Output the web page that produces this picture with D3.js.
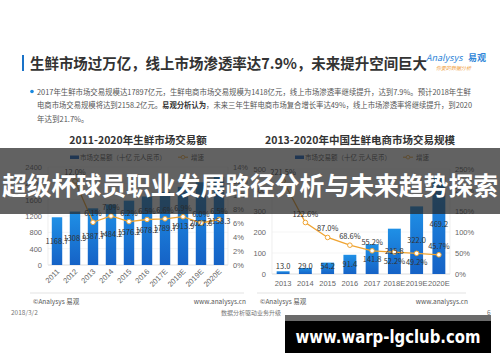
<!DOCTYPE html>
<html>
<head>
<meta charset="utf-8">
<script src="https://cdn.jsdelivr.net/npm/d3@7"></script>
<style>
  html, body { margin: 0; padding: 0; background: #fff; }
  svg { display: block; font-family: "Noto Sans CJK SC", "Noto Sans", sans-serif; }
</style>
</head>
<body>
<div id="chart"></div>
<script>
// left chart: fresh market size 2011-2020
const years1 = ["2011","2012","2013","2014","2015","2016","2017E","2018E","2019E","2020E"];
const market1 = [1168.7,1308.9,1387.7,1484.2,1576.2,1678.2,1789.7,1913.9,2027.8,2158.3];
const growth1 = [null,12.0,6.1,7.0,6.2,6.5,6.6,6.9,6.0,6.5];
const ticksL1 = [0,400,800,1200,1600,2000,2400];
const ticksR1 = [0,2,4,6,8,10,12,14];

// right chart: fresh e-commerce 2013-2020
const years2 = ["2013","2014","2015","2016","2017","2018E","2019E","2020E"];
const market2 = [13.0,29.0,54.2,91.4,141.8,215.8,322.0,469.2];
const growth2 = [221.5,122.6,87.0,68.6,55.2,52.2,49.2,45.7];
const labelSide2 = ["top","top","top","top","top","bottom","bottom","top"];
const ticksL2 = [0,100,200,300,400,500];
const ticksR2 = [0,50,100,150,200,250];

const W = 500, H = 362;
const svg = d3.select("#chart").append("svg").attr("width", W).attr("height", H);

const defs = svg.append("defs");
const grad = defs.append("linearGradient").attr("id", "barGrad")
  .attr("x1", 0).attr("y1", 0).attr("x2", 0).attr("y2", 1);
grad.append("stop").attr("offset", "0%").attr("stop-color", "#1f90e6");
grad.append("stop").attr("offset", "100%").attr("stop-color", "#1562c6");

const ORANGE = "#f0a431";
const TXT = "#555";

// ---- header ----
svg.append("rect").attr("x", 22).attr("y", 55).attr("width", 2).attr("height", 16).attr("fill", "#1a73c8");
svg.append("text").attr("x", 30).attr("y", 69)
  .attr("font-size", 15).attr("font-weight", "bold").attr("fill", "#333")
  .attr("textLength", 397).attr("lengthAdjust", "spacingAndGlyphs")
  .text("生鲜市场过万亿，线上市场渗透率达7.9%，未来提升空间巨大");

// logo
svg.append("text").attr("x", 426).attr("y", 61).attr("font-size", 9).attr("font-style", "italic")
  .attr("fill", "#2f86d8").text("Analysys");
svg.append("text").attr("x", 468).attr("y", 61).attr("font-size", 9).attr("font-weight", "bold")
  .attr("fill", "#2f86d8").text("易观");
svg.append("text").attr("x", 436).attr("y", 70).attr("font-size", 5).attr("font-style", "italic")
  .attr("fill", "#f0a040").text("你要的数据分析");

// bullet text
svg.append("circle").attr("cx", 32).attr("cy", 91.5).attr("r", 1.8).attr("fill", "#1a8ae0");
const bl = [
  [{t:"2017年生鲜市场交易规模达17897亿元，生鲜电商市场交易规模为1418亿元，线上市场渗透率继续提升，达到7.9%。预计2018年生鲜"}],
  [{t:"电商市场交易规模将达到2158.2亿元。"},{t:"易观分析认为",b:true},{t:"，未来三年生鲜电商市场复合增长率达49%，线上市场渗透率将继续提升，到2020"}],
  [{t:"年达到21.7%。"}]
];
const blY = [94.5, 108, 121.5];
const blLen = [434, 435, null];
bl.forEach((parts, i) => {
  const t = svg.append("text").attr("x", 37).attr("y", blY[i]).attr("font-size", 7.5).attr("fill", TXT);
  if (blLen[i]) t.attr("textLength", blLen[i]).attr("lengthAdjust", "spacingAndGlyphs");
  parts.forEach(p => t.append("tspan").attr("font-weight", p.b ? "bold" : null)
    .attr("fill", p.b ? "#333" : null).text(p.t));
});

// ---- generic chart drawer ----
function drawChart(o) {
  const g = svg.append("g");
  const x = d3.scaleBand().domain(o.cats).range(o.xr).paddingInner(0.42).paddingOuter(0.21);
  const yL = d3.scaleLinear().domain(o.yLd).range(o.yr);
  const yR = d3.scaleLinear().domain(o.yRd).range(o.yr);

  // title
  g.append("text").attr("x", o.titleX).attr("y", 144).attr("text-anchor", "middle")
    .attr("font-size", 10.5).attr("font-weight", "bold").attr("fill", "#333").text(o.title);

  // legend
  g.append("rect").attr("x", o.legX).attr("y", 155.5).attr("width", 9).attr("height", 3.5).attr("fill", "#1562c6");
  g.append("text").attr("x", o.legX + 10).attr("y", 159.5).attr("font-size", 6.5).attr("fill", TXT)
    .text("市场交易额（十亿 元人民币）");
  g.append("line").attr("x1", o.legX + 108).attr("x2", o.legX + 118).attr("y1", 157.2).attr("y2", 157.2)
    .attr("stroke", ORANGE).attr("stroke-width", 1);
  g.append("circle").attr("cx", o.legX + 113).attr("cy", 157.2).attr("r", 1.8)
    .attr("fill", "#fff").attr("stroke", ORANGE).attr("stroke-width", 0.8);
  g.append("text").attr("x", o.legX + 121).attr("y", 159.5).attr("font-size", 6.5).attr("fill", TXT).text("增速");

  // grid
  g.selectAll(".grid").data(o.ticksL).join("line")
    .attr("x1", o.xr[0]).attr("x2", o.xr[1])
    .attr("y1", d => yL(d)).attr("y2", d => yL(d))
    .attr("stroke", d => d === 0 ? "#cfcfcf" : "#f0f0f0").attr("stroke-width", 0.7);
  g.append("line").attr("x1", o.xr[0]).attr("x2", o.xr[0]).attr("y1", o.yr[0]).attr("y2", o.yr[1])
    .attr("stroke", "#e6e6e6").attr("stroke-width", 0.7);
  g.append("line").attr("x1", o.xr[1]).attr("x2", o.xr[1]).attr("y1", o.yr[0]).attr("y2", o.yr[1])
    .attr("stroke", "#e6e6e6").attr("stroke-width", 0.7);

  // axes
  const axL = g.append("g").attr("transform", `translate(${o.xr[0] - 6},0)`)
    .call(d3.axisLeft(yL).tickValues(o.ticksL).tickSize(0).tickPadding(0).tickFormat(d => String(d)));
  const axR = g.append("g").attr("transform", `translate(${o.xr[1] + 5},0)`)
    .call(d3.axisRight(yR).tickValues(o.ticksR).tickSize(0).tickPadding(0).tickFormat(d => d + "%"));
  [axL, axR].forEach(a => {
    a.select(".domain").remove();
    a.selectAll("text").attr("font-size", 7.5).attr("fill", "#666").attr("font-family", null);
  });

  const axB = g.append("g").attr("transform", `translate(0,${o.yr[0]})`)
    .call(d3.axisBottom(x).tickSize(0).tickPadding(0));
  axB.select(".domain").remove();
  axB.selectAll("text").attr("font-size", 7.5).attr("fill", "#666").attr("font-family", null);
  if (o.rotate) {
    axB.selectAll("text").attr("text-anchor", "end").attr("dy", null)
      .attr("transform", "translate(3,7) rotate(-45)");
  } else {
    axB.selectAll("text").attr("dy", null).attr("y", 11.5);
  }

  // bars
  g.selectAll(".bar").data(o.cats).join("rect")
    .attr("x", d => x(d)).attr("width", x.bandwidth())
    .attr("y", (d, i) => yL(o.vals[i])).attr("height", (d, i) => yL(0) - yL(o.vals[i]))
    .attr("fill", "url(#barGrad)");

  // growth line
  const pts = o.cats.map((c, i) => ({c, v: o.rates[i], i})).filter(p => p.v != null);
  const line = d3.line().x(p => x(p.c) + x.bandwidth() / 2).y(p => yR(p.v));
  g.append("path").datum(pts).attr("d", line).attr("fill", "none")
    .attr("stroke", ORANGE).attr("stroke-width", 1.3);
  g.selectAll(".pt").data(pts).join("circle")
    .attr("cx", p => x(p.c) + x.bandwidth() / 2).attr("cy", p => yR(p.v)).attr("r", 2.3)
    .attr("fill", "#fff").attr("stroke", ORANGE).attr("stroke-width", 1);

  // value labels
  g.selectAll(".vl").data(o.cats).join("text")
    .attr("x", d => x(d) + x.bandwidth() / 2)
    .attr("y", (d, i) => Math.min((yL(o.vals[i]) + yL(0)) / 2, yL(0) - 8) + 2.6)
    .attr("text-anchor", "middle").attr("font-size", 7.5).attr("fill", "#333")
    .text((d, i) => o.vals[i].toFixed(1));

  // rate labels
  g.selectAll(".rl").data(pts).join("text")
    .attr("x", p => x(p.c) + x.bandwidth() / 2)
    .attr("y", p => yR(p.v) + ((o.sides && o.sides[p.i] === "bottom") ? 12 : -6))
    .attr("text-anchor", "middle").attr("font-size", 7.5).attr("fill", "#333")
    .text(p => p.v.toFixed(1) + "%");

  // footer of chart
  g.append("line").attr("x1", o.footX[0]).attr("x2", o.footX[1]).attr("y1", 293).attr("y2", 293)
    .attr("stroke", "#e3e3e3").attr("stroke-width", 1);
  g.append("text").attr("x", o.footX[0] + 3).attr("y", 303.5).attr("font-size", 6.5).attr("fill", TXT)
    .text("©Analysys 易观");
  g.append("text").attr("x", o.footX[1] + 2).attr("y", 303.5).attr("text-anchor", "end")
    .attr("font-size", 6.5).attr("fill", TXT).text("www.analysys.cn");
}

drawChart({
  cats: years1, vals: market1, rates: growth1,
  xr: [48, 228], yr: [265, 167], yLd: [0, 2400], yRd: [0, 14],
  ticksL: ticksL1, ticksR: ticksR1,
  title: "2011-2020年生鲜市场交易额", titleX: 138, legX: 70, rotate: true,
  footX: [30, 244]
});

drawChart({
  cats: years2, vals: market2, rates: growth2, sides: labelSide2,
  xr: [272, 450], yr: [274, 169], yLd: [0, 500], yRd: [0, 250],
  ticksL: ticksL2, ticksR: ticksR2,
  title: "2013-2020年中国生鲜电商市场交易规模", titleX: 360, legX: 295, rotate: false,
  footX: [257, 466]
});

// page footer
svg.append("text").attr("x", 11).attr("y", 314.5).attr("font-size", 6.5).attr("fill", "#777").text("2018/3/2");
svg.append("text").attr("x", 251).attr("y", 315).attr("text-anchor", "middle").attr("font-size", 6)
  .attr("fill", "#777").text("数据分析驱动业务升级");
svg.append("text").attr("x", 487).attr("y", 314.5).attr("font-size", 6.5).attr("fill", "#777").text("6");

// banner overlay
svg.append("rect").attr("x", 0).attr("y", 148).attr("width", W).attr("height", 66)
  .attr("fill", "rgba(38,38,38,0.72)");
svg.append("text").attr("x", W / 2).attr("y", 195).attr("text-anchor", "middle")
  .attr("font-size", 25).attr("font-weight", "bold").attr("fill", "#fff")
  .attr("textLength", 496).attr("lengthAdjust", "spacingAndGlyphs")
  .text("超级杯球员职业发展路径分析与未来趋势探索");

// url box
svg.append("rect").attr("x", 285).attr("y", 315).attr("width", 206).attr("height", 6).attr("fill", "#6b6b6b");
svg.append("rect").attr("x", 285).attr("y", 321).attr("width", 206).attr("height", 32).attr("fill", "#000");
svg.append("text").attr("x", 388).attr("y", 343).attr("text-anchor", "middle")
  .attr("font-family", "'DejaVu Sans', sans-serif")
  .attr("font-size", 17).attr("font-weight", "bold").attr("fill", "#fff")
  .attr("textLength", 185).attr("lengthAdjust", "spacingAndGlyphs")
  .text("www.warp-lgclub.com");
</script>
</body>
</html>
